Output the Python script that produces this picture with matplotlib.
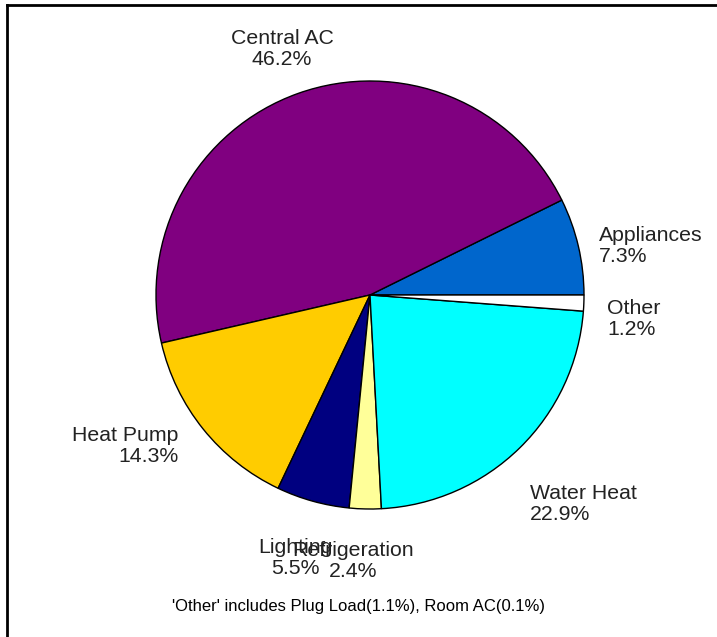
"""End-use energy share pie chart."""

import numpy as np
import matplotlib
matplotlib.use("Agg")
import matplotlib.pyplot as plt
from matplotlib.lines import Line2D

categories = ["Appliances", "Central AC", "Heat Pump", "Lighting",
              "Refrigeration", "Water Heat", "Other"]
shares = [7.3, 46.2, 14.3, 5.5, 2.4, 22.9, 1.2]
colors = ["#0066CC", "#800080", "#FFCC00", "#000080",
          "#FFFF99", "#00FFFF", "#FFFFFF"]
footnote = "'Other' includes Plug Load(1.1%), Room AC(0.1%)"

# pixel geometry of the reference
W, H = 717, 637
CX, CY, R = 370, 295, 214

# label distance (in radii) and small nudges (x, y in radii)
label_dist = {"Central AC": 1.22, "Lighting": 1.26, "Refrigeration": 1.24}
label_nudge = {"Appliances": (0.0, -0.02), "Other": (0.01, -0.07),
               "Water Heat": (-0.023, -0.19), "Heat Pump": (-0.037, -0.015),
               "Refrigeration": (-0.05, -0.005), "Lighting": (-0.01, -0.015)}

plt.rcParams["font.family"] = ["Liberation Sans", "DejaVu Sans"]

fig = plt.figure(figsize=(W / 100, H / 100), dpi=100)
ax = fig.add_axes([0, 0, 1, 1])

wedges, _ = ax.pie(shares, colors=colors, startangle=0, counterclock=True,
                   radius=1.0,
                   wedgeprops=dict(edgecolor="black", linewidth=1.0))

total = sum(shares)
start = 0.0
for name, val in zip(categories, shares):
    span = 360.0 * val / total
    mid = np.deg2rad(start + span / 2)
    start += span
    c, s = np.cos(mid), np.sin(mid)
    d = label_dist.get(name, 1.1)
    x, y = d * c, d * s
    nx, ny = label_nudge.get(name, (0.0, 0.0))
    x += nx
    y += ny
    if abs(c) < 0.4:
        ha = "center"
    elif c > 0:
        ha = "left"
    else:
        ha = "right"
    ax.text(x, y, "{}\n{:.1f}%".format(name, val), ha=ha, va="center",
            fontsize=15.3, color="#222222", linespacing=1.15, multialignment=ha)

ax.set_xlim(-CX / R, (W - CX) / R)
ax.set_ylim(-(H - CY) / R, CY / R)
ax.set_aspect("auto")
ax.axis("off")

fig.text(358 / W, 1 - 606 / H, footnote, ha="center", va="center",
         fontsize=12, color="black",
         family=["Liberation Sans Narrow", "Liberation Sans"])

# frame lines (left and top edges visible in the reference)
fig.add_artist(Line2D([7 / W, 7 / W], [0, 1 - 5 / H], transform=fig.transFigure,
                      color="black", lw=2.0, solid_capstyle="projecting"))
fig.add_artist(Line2D([7 / W, 1], [1 - 5 / H, 1 - 5 / H], transform=fig.transFigure,
                      color="black", lw=2.0, solid_capstyle="projecting"))

fig.savefig("out.png", dpi=100)
